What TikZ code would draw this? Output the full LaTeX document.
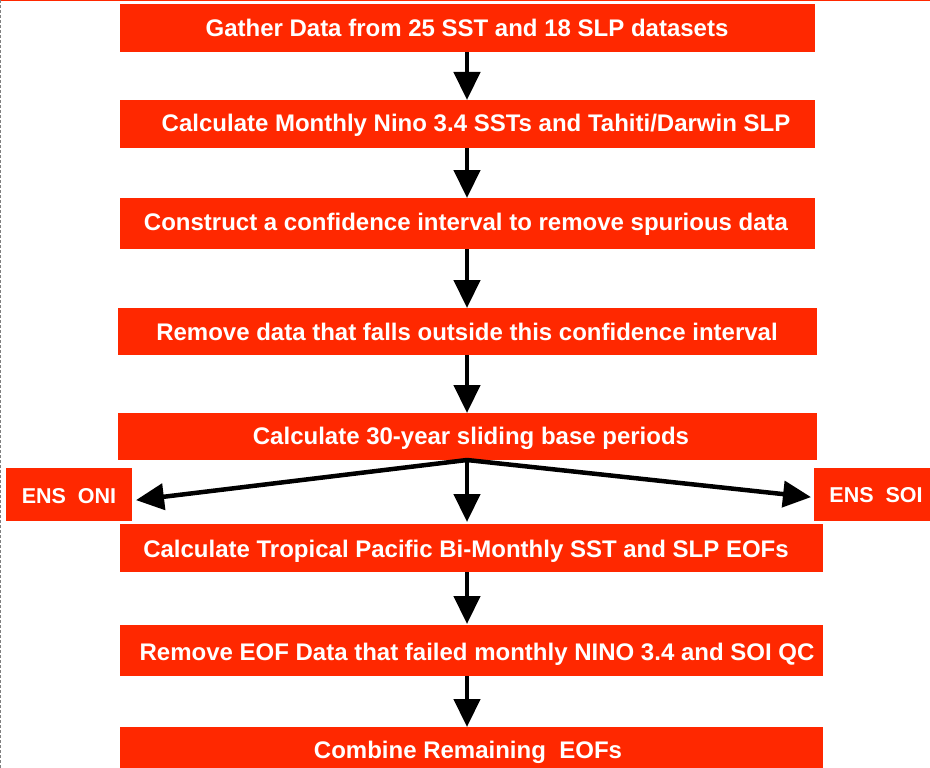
\documentclass[tikz,border=0pt]{standalone}
\usepackage{fontspec}
\setmainfont{Liberation Sans}
\usetikzlibrary{arrows.meta}
\definecolor{boxred}{RGB}{255,40,0}
\tikzset{
  flowbox/.style={fill=boxred, draw=none},
  lbl/.style={text=white, font=\bfseries\fontsize{24}{28}\selectfont, inner sep=0pt},
  smalllbl/.style={text=white, font=\bfseries\fontsize{21.5}{26}\selectfont, inner sep=0pt},
  flowarrow/.style={line width=4.5pt, -{Triangle[length=28pt,width=26pt]}, shorten >=-1pt},
}
\begin{document}
\begin{tikzpicture}[x=1pt,y=-1pt]
\useasboundingbox (0,0) rectangle (930,768);
\fill[white] (0,0) rectangle (930,768);
\draw[boxred, line width=1.5pt] (0,0.75) -- (930,0.75);
\draw[gray, line width=1pt, densely dashed] (0.5,0) -- (0.5,768);
% boxes
\fill[flowbox] (120,4) rectangle (815,52);
\fill[flowbox] (120,100) rectangle (815,148);
\fill[flowbox] (120,198) rectangle (815,249);
\fill[flowbox] (118,308) rectangle (817,355);
\fill[flowbox] (118,413) rectangle (817,460);
\fill[flowbox] (6,468) rectangle (132,521);
\fill[flowbox] (814,468) rectangle (930,521);
\fill[flowbox] (120,524) rectangle (823,572);
\fill[flowbox] (120,625) rectangle (823,676);
\fill[flowbox] (120,727) rectangle (823,768);
% labels
\node[lbl] (t1) at (467,28) {Gather Data from 25 SST and 18 SLP datasets};
\node[lbl] (t2) at (476,125) {Calculate Monthly Nino 3.4 SSTs and Tahiti/Darwin SLP};
\node[lbl] (t3) at (466,224) {Construct a confidence interval to remove spurious data};
\node[lbl] (t4) at (467,332) {Remove data that falls outside this confidence interval};
\node[lbl] (t5) at (471,438) {Calculate 30-year sliding base periods};
\node[smalllbl] (oni) at (69,496) {ENS\ \ ONI};
\node[smalllbl] (soi) at (876,495) {ENS\ \ SOI};
\node[lbl] (t6) at (466,551) {Calculate Tropical Pacific Bi-Monthly SST and SLP EOFs};
\node[lbl] (t7) at (477,654) {Remove EOF Data that failed monthly NINO 3.4 and SOI QC};
\node[lbl] (t8) at (468,752) {Combine Remaining\ \ EOFs};
% anchor coordinates
\coordinate (b1) at (467,52);  \coordinate (a2) at (467,99);
\coordinate (b2) at (467,148); \coordinate (a3) at (467,197);
\coordinate (b3) at (467,249); \coordinate (a4) at (467,307);
\coordinate (b4) at (467,355); \coordinate (a5) at (467,412);
\coordinate (b5) at (467,460); \coordinate (a6) at (467,521);
\coordinate (b6) at (467,572); \coordinate (a7) at (467,623);
\coordinate (b7) at (467,676); \coordinate (a8) at (467,726);
\coordinate (oniE) at (137,500);
\coordinate (soiW) at (810,497);
\draw[flowarrow] (b1) -- (a2);
\draw[flowarrow] (b2) -- (a3);
\draw[flowarrow] (b3) -- (a4);
\draw[flowarrow] (b4) -- (a5);
\draw[flowarrow] (b5) -- (a6);
\draw[flowarrow] (b5) -- (oniE);
\draw[flowarrow] (b5) -- (soiW);
\draw[flowarrow] (b6) -- (a7);
\draw[flowarrow] (b7) -- (a8);
\end{tikzpicture}
\end{document}
